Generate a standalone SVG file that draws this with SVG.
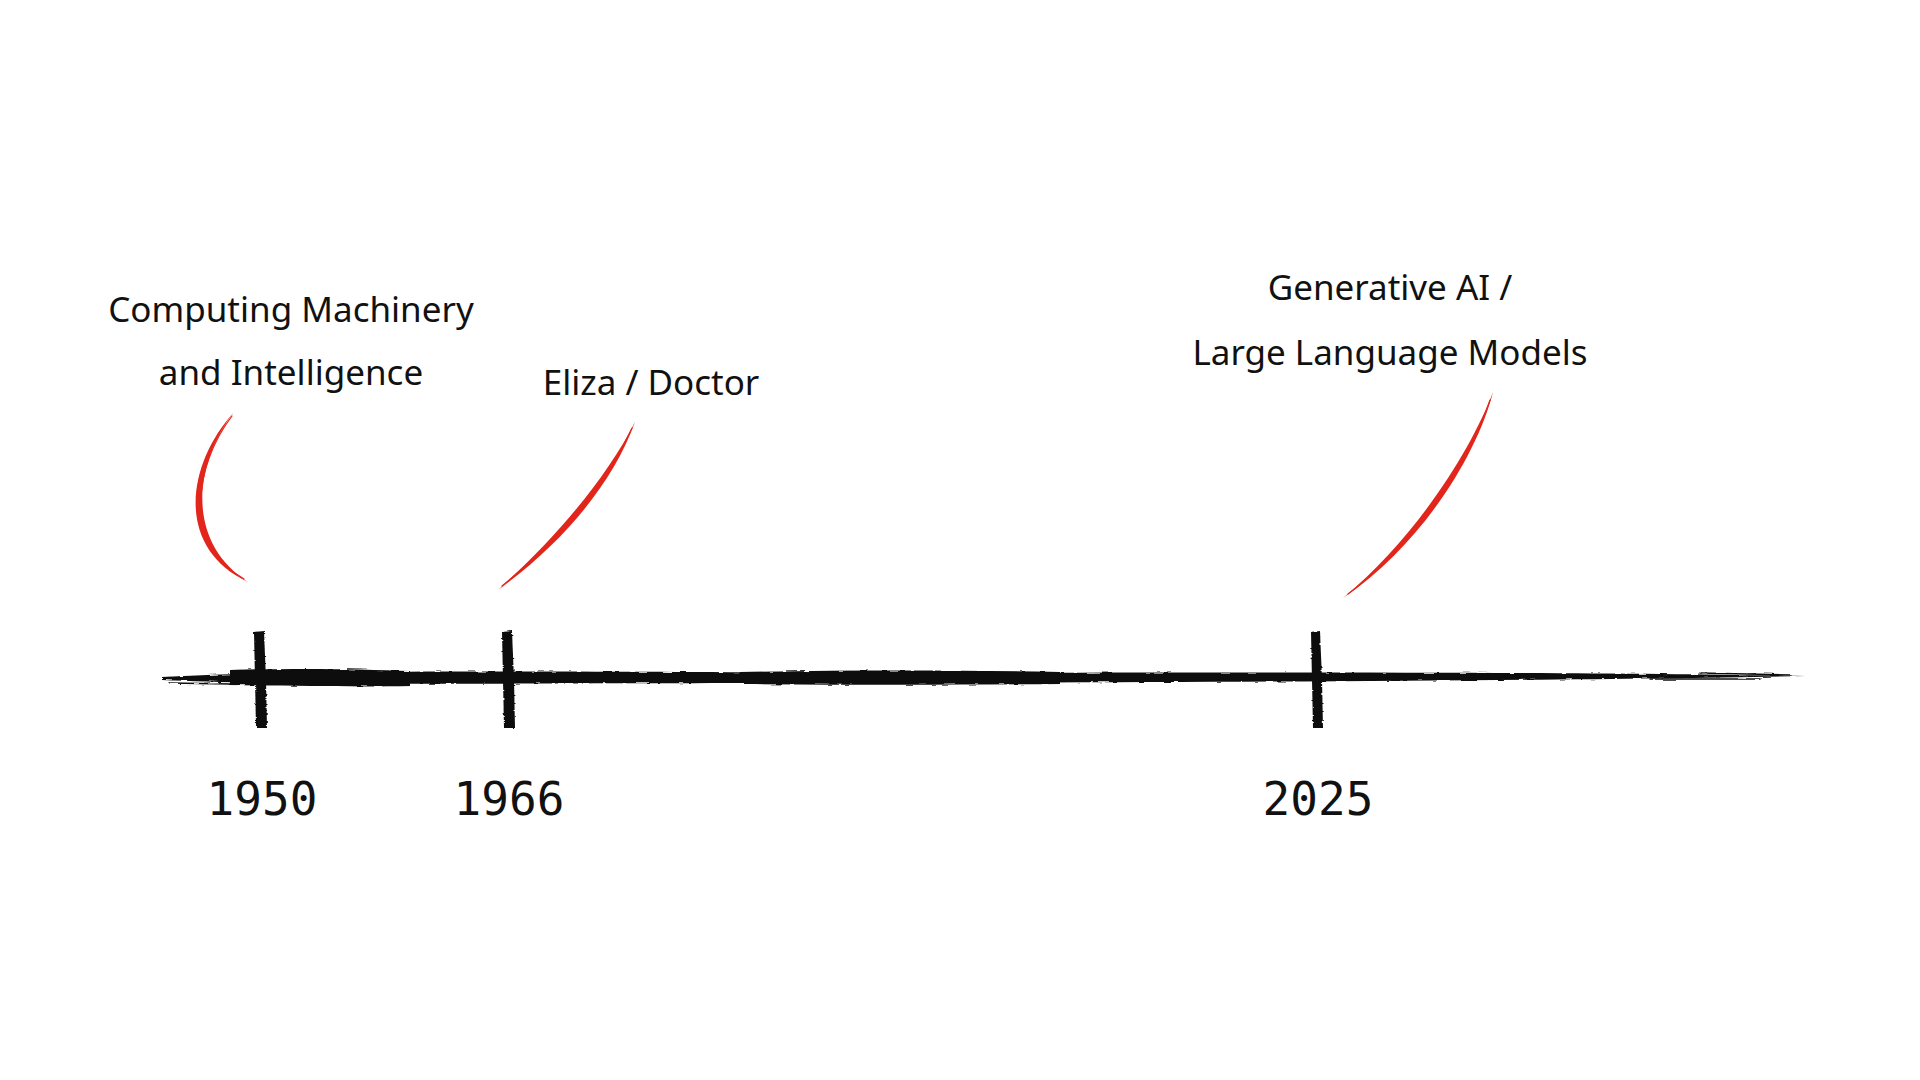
<svg xmlns="http://www.w3.org/2000/svg" width="1920" height="1080" viewBox="0 0 1920 1080">
<defs>
<style>
.hand{font-family:"Noto Sans","Liberation Sans",sans-serif;font-size:35px;fill:#111;text-anchor:middle}
.year{font-family:"DejaVu Sans Mono","Liberation Mono",monospace;font-size:46px;fill:#111;text-anchor:middle}
.red{fill:#e2261b}
.redline{fill:none;stroke:#e2261b;stroke-linecap:round}
.ink{fill:#111}
.inkline{fill:none;stroke:#111;stroke-linecap:round}
</style>
<filter id="rough" x="-5%" y="-50%" width="110%" height="200%">
<feTurbulence type="fractalNoise" baseFrequency="0.08 0.6" numOctaves="2" seed="3" result="n"/>
<feDisplacementMap in="SourceGraphic" in2="n" scale="3" xChannelSelector="R" yChannelSelector="G"/>
</filter>
</defs>
<rect width="1920" height="1080" fill="#ffffff"/>

<g id="axis" filter="url(#rough)">
<path class="ink" d="M162,677 C300,670 500,671 900,673 C1300,672 1600,672 1806,676 C1600,680 1300,682 900,683 C500,683 300,686 162,680 Z"/>
<path class="ink" d="M230,670 C300,668 360,669 410,671 L410,686 C360,687 300,686 230,685 Z"/>
<path class="ink" d="M740,672 C850,670 950,670 1060,672 L1060,684 C950,685 850,685 740,684 Z"/>
<path class="inkline" stroke-width="1.5" d="M1700,673 L1790,675"/>
<path class="inkline" stroke-width="1.5" d="M1650,679 L1760,679"/>
<path class="inkline" stroke-width="1.5" d="M170,683 L230,684"/>
</g>

<g id="connectors">
<path class="red" d="M234,412 C186,465 175,548 248,582 C186,542 193,465 234,412 Z"/>
<path class="redline" stroke-width="1.2" d="M232,416 C194,466 183,544 244,579"/>
<path class="red" d="M635,422 C613,483 563,543 498,590 C557,537 607,477 635,422 Z"/>
<path class="redline" stroke-width="1.2" d="M632,428 C606,484 558,540 502,586"/>
<path class="red" d="M1493,392 C1478,452 1424,543 1343,598 C1417,537 1472,448 1493,392 Z"/>
<path class="redline" stroke-width="1.2" d="M1490,400 C1472,455 1420,540 1348,594"/>
</g>

<g id="node-1950">
<path class="ink" filter="url(#rough)" d="M254,632 L264,631 L266,680 L267,728 L256,728 L255,680 Z"/>
<text class="year" x="262" y="815">1950</text>
<text class="hand" x="291" y="322">Computing Machinery</text>
<text class="hand" x="291" y="385">and Intelligence</text>
</g>

<g id="node-1966">
<path class="ink" filter="url(#rough)" d="M502,632 L512,631 L514,680 L515,728 L504,728 L503,680 Z"/>
<text class="year" x="509" y="815">1966</text>
<text class="hand" x="651" y="395">Eliza / Doctor</text>
</g>

<g id="node-2025">
<path class="ink" filter="url(#rough)" d="M1311,632 L1320,631 L1322,680 L1323,728 L1313,728 L1312,680 Z"/>
<text class="year" x="1318" y="815">2025</text>
<text class="hand" x="1390" y="300">Generative AI /</text>
<text class="hand" x="1390" y="365">Large Language Models</text>
</g>
</svg>
